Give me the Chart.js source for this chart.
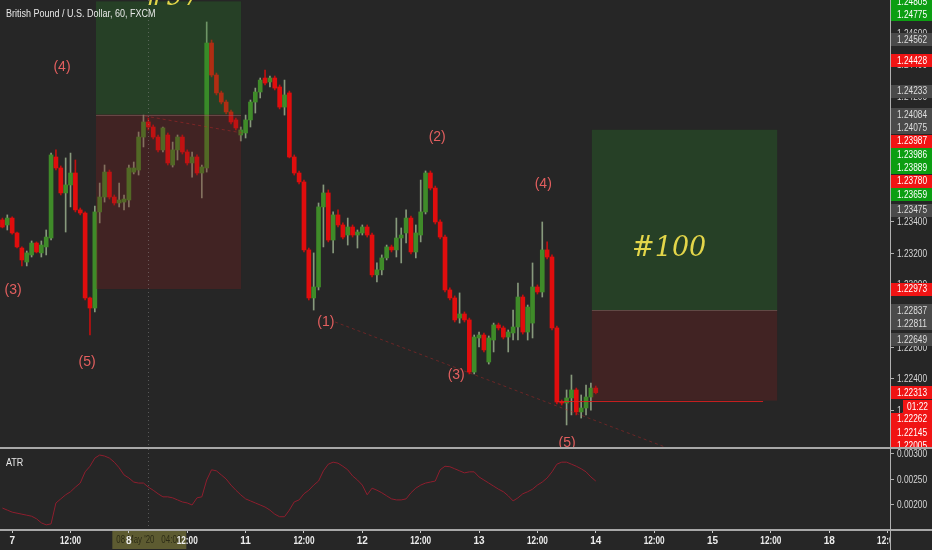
<!DOCTYPE html>
<html>
<head>
<meta charset="utf-8">
<script src="https://cdn.jsdelivr.net/npm/chart.js@4.4.1/dist/chart.umd.min.js"></script>
<style>
  html, body { margin: 0; padding: 0; background: #262626; }
  #wrap { position: relative; width: 932px; height: 550px; overflow: hidden; background: #262626;
          font-family: "Liberation Sans", Arial, sans-serif; }
  #price { position: absolute; left: 0; top: 0; }
  #atr { position: absolute; left: 0; top: 449px; }
  .hline { position: absolute; left: 0; width: 932px; height: 2px; background: #a8a8a8; }
  .vline { position: absolute; left: 890px; top: 0; width: 1px; height: 550px; background: #b0b0b0; }
  .label { position: absolute; color: #e8e8e8; font-size: 10px; line-height: 10px; white-space: nowrap;
           transform: scaleX(0.9); transform-origin: left top; }
  #corner { position: absolute; left: 891px; top: 531px; width: 41px; height: 19px; background: #262626; }
</style>
</head>
<body>
<div id="wrap">
  <canvas id="price" width="932" height="447"></canvas>
  <canvas id="atr" width="932" height="101"></canvas>
  <div class="hline" style="top:447px"></div>
  <div class="hline" style="top:529px"></div>
  <div id="corner"></div>
  <div class="vline"></div>
  <div class="label" style="left:6px;top:9px">British Pound / U.S. Dollar, 60, FXCM</div>
  <div class="label" style="left:6px;top:458px">ATR</div>
</div>
<script>
'use strict';

// time axis: one bar per hour, a label every 12 bars
const tickLabels = ['7', '12:00', '8', '12:00', '11', '12:00', '12', '12:00',
                    '13', '12:00', '14', '12:00', '15', '12:00', '18', '12:00'];
const firstTickBar = 2;
const barsPerTick = 12;
const barCount = 183;

// GBPUSD 60 min candles
const opens = [
  1.23413, 1.23381, 1.23425, 1.23330, 1.23234, 1.23145, 1.23190, 1.23266, 1.23203, 1.23241,
  1.23298, 1.23814, 1.23744, 1.23585, 1.23636, 1.23712, 1.23477, 1.23457, 1.22916, 1.22852,
  1.23464, 1.23559, 1.23718, 1.23559, 1.23521, 1.23527, 1.23540, 1.23718, 1.23731, 1.23941,
  1.24037, 1.24005, 1.23941, 1.23859, 1.23954, 1.23763, 1.23859, 1.23941, 1.23846, 1.23776,
  1.23814, 1.23712, 1.23744, 1.24540, 1.24336, 1.24222, 1.24164, 1.24101, 1.24050, 1.23954,
  1.23967, 1.24050, 1.24164, 1.24228, 1.24317, 1.24292, 1.24317, 1.24260, 1.24132, 1.24222,
  1.23814, 1.23712, 1.23655, 1.23222, 1.22916, 1.22986, 1.23496, 1.23585, 1.23285, 1.23445,
  1.23381, 1.23317, 1.23368, 1.23317, 1.23330, 1.23368, 1.23317, 1.23063, 1.23095, 1.23171,
  1.23241, 1.23222, 1.23298, 1.23330, 1.23425, 1.23209, 1.23317, 1.23464, 1.23712, 1.23616,
  1.23400, 1.23304, 1.22967, 1.22916, 1.22788, 1.22814, 1.22776, 1.22444, 1.22661, 1.22680,
  1.22508, 1.22648, 1.22744, 1.22725, 1.22667, 1.22693, 1.22731, 1.22922, 1.22699, 1.22756,
  1.22986, 1.22954, 1.23222, 1.23177, 1.22725, 1.22253, 1.22247, 1.22279, 1.22330, 1.22190,
  1.22215, 1.22285, 1.22342
];
const highs = [
  1.23425, 1.23445, 1.23432, 1.23336, 1.23241, 1.23215, 1.23279, 1.23273, 1.23279, 1.23349,
  1.23839, 1.23859, 1.23757, 1.23808, 1.23839, 1.23795, 1.23489, 1.23464, 1.22922, 1.23502,
  1.23648, 1.23763, 1.23731, 1.23572, 1.23648, 1.23572, 1.23763, 1.23782, 1.23973, 1.24081,
  1.24062, 1.24018, 1.23954, 1.24005, 1.23967, 1.23909, 1.23954, 1.23954, 1.23859, 1.23846,
  1.23827, 1.23763, 1.24674, 1.24559, 1.24349, 1.24234, 1.24177, 1.24113, 1.24062, 1.24005,
  1.24081, 1.24177, 1.24253, 1.24317, 1.24368, 1.24330, 1.24330, 1.24273, 1.24304, 1.24234,
  1.23827, 1.23725, 1.23667, 1.23234, 1.23203, 1.23521, 1.23636, 1.23604, 1.23464, 1.23477,
  1.23394, 1.23425, 1.23381, 1.23349, 1.23381, 1.23381, 1.23330, 1.23139, 1.23190, 1.23253,
  1.23253, 1.23425, 1.23362, 1.23477, 1.23438, 1.23381, 1.23667, 1.23725, 1.23725, 1.23629,
  1.23413, 1.23317, 1.22980, 1.22929, 1.22948, 1.22827, 1.22788, 1.22680, 1.22699, 1.22693,
  1.22674, 1.22756, 1.22756, 1.22737, 1.22712, 1.22839, 1.23011, 1.22935, 1.22871, 1.23139,
  1.22999, 1.23400, 1.23273, 1.23190, 1.22737, 1.22266, 1.22330, 1.22425, 1.22342, 1.22298,
  1.22361, 1.22374, 1.22355
];
const lows = [
  1.23362, 1.23349, 1.23323, 1.23234, 1.23120, 1.23120, 1.23177, 1.23203, 1.23177, 1.23190,
  1.23285, 1.23731, 1.23572, 1.23336, 1.23496, 1.23464, 1.23445, 1.22903, 1.22680, 1.22827,
  1.23394, 1.23527, 1.23546, 1.23508, 1.23496, 1.23477, 1.23496, 1.23706, 1.23699, 1.23878,
  1.23986, 1.23929, 1.23846, 1.23846, 1.23763, 1.23750, 1.23795, 1.23833, 1.23763, 1.23686,
  1.23699, 1.23553, 1.23718, 1.24324, 1.24209, 1.24152, 1.24088, 1.24024, 1.23986, 1.23916,
  1.23935, 1.24005, 1.24094, 1.24190, 1.24273, 1.24260, 1.24241, 1.24120, 1.24081, 1.23808,
  1.23699, 1.23642, 1.23209, 1.22903, 1.22839, 1.22967, 1.23241, 1.23273, 1.23203, 1.23368,
  1.23292, 1.23253, 1.23304, 1.23234, 1.23317, 1.23304, 1.23050, 1.23018, 1.23063, 1.23158,
  1.23209, 1.23177, 1.23139, 1.23266, 1.23196, 1.23171, 1.23273, 1.23451, 1.23604, 1.23387,
  1.23292, 1.22954, 1.22903, 1.22763, 1.22756, 1.22763, 1.22432, 1.22432, 1.22604, 1.22572,
  1.22495, 1.22572, 1.22712, 1.22655, 1.22572, 1.22648, 1.22648, 1.22686, 1.22648, 1.22661,
  1.22941, 1.22922, 1.23164, 1.22712, 1.22241, 1.22234, 1.22107, 1.22171, 1.22171, 1.22151,
  1.22171, 1.22202, 1.22305
];
const closes = [
  1.23368, 1.23425, 1.23330, 1.23241, 1.23158, 1.23203, 1.23266, 1.23209, 1.23253, 1.23304,
  1.23827, 1.23744, 1.23585, 1.23636, 1.23712, 1.23477, 1.23457, 1.22916, 1.22852, 1.23464,
  1.23559, 1.23718, 1.23559, 1.23521, 1.23540, 1.23546, 1.23744, 1.23744, 1.23941, 1.24037,
  1.24005, 1.23941, 1.23859, 1.23999, 1.23776, 1.23859, 1.23941, 1.23846, 1.23776, 1.23814,
  1.23712, 1.23750, 1.24540, 1.24336, 1.24222, 1.24164, 1.24101, 1.24037, 1.23999, 1.23986,
  1.24050, 1.24164, 1.24228, 1.24304, 1.24285, 1.24317, 1.24253, 1.24132, 1.24209, 1.23814,
  1.23712, 1.23655, 1.23222, 1.22916, 1.22986, 1.23496, 1.23585, 1.23285, 1.23445, 1.23381,
  1.23304, 1.23368, 1.23317, 1.23336, 1.23368, 1.23317, 1.23063, 1.23095, 1.23171, 1.23241,
  1.23222, 1.23298, 1.23317, 1.23425, 1.23209, 1.23330, 1.23464, 1.23712, 1.23616, 1.23400,
  1.23304, 1.22967, 1.22916, 1.22776, 1.22814, 1.22776, 1.22444, 1.22667, 1.22680, 1.22585,
  1.22661, 1.22744, 1.22725, 1.22667, 1.22699, 1.22731, 1.22922, 1.22699, 1.22858, 1.22986,
  1.22954, 1.23222, 1.23177, 1.22725, 1.22253, 1.22247, 1.22279, 1.22330, 1.22190, 1.22215,
  1.22285, 1.22342, 1.22313
];

// ATR indicator, one value per bar
const atr = [
  0.00194, 0.00190, 0.00186, 0.00184, 0.00182, 0.00180, 0.00178, 0.00173, 0.00165, 0.00161,
  0.00163, 0.00204, 0.00212, 0.00220, 0.00226, 0.00235, 0.00243, 0.00265, 0.00276, 0.00292,
  0.00298, 0.00296, 0.00292, 0.00284, 0.00273, 0.00259, 0.00253, 0.00245, 0.00243, 0.00243,
  0.00235, 0.00229, 0.00222, 0.00216, 0.00216, 0.00214, 0.00210, 0.00206, 0.00204, 0.00200,
  0.00214, 0.00216, 0.00249, 0.00269, 0.00267, 0.00259, 0.00251, 0.00239, 0.00229, 0.00220,
  0.00212, 0.00208, 0.00204, 0.00200, 0.00196, 0.00190, 0.00182, 0.00177, 0.00177, 0.00190,
  0.00206, 0.00210, 0.00222, 0.00229, 0.00239, 0.00247, 0.00267, 0.00280, 0.00284, 0.00282,
  0.00276, 0.00269, 0.00257, 0.00249, 0.00239, 0.00220, 0.00233, 0.00229, 0.00224, 0.00218,
  0.00212, 0.00210, 0.00210, 0.00212, 0.00224, 0.00233, 0.00239, 0.00243, 0.00245, 0.00247,
  0.00269, 0.00276, 0.00275, 0.00271, 0.00267, 0.00263, 0.00265, 0.00265, 0.00255, 0.00249,
  0.00243, 0.00237, 0.00231, 0.00226, 0.00218, 0.00208, 0.00214, 0.00222, 0.00226, 0.00231,
  0.00239, 0.00245, 0.00253, 0.00265, 0.00280, 0.00284, 0.00284, 0.00280, 0.00276, 0.00271,
  0.00265, 0.00255, 0.00247
];

// visible ranges of the two panes
const priceMin = 1.219666, priceMax = 1.24814;
const atrMin = 0.0015294, atrMax = 0.003098;

// price scale badges (r = red, g = green, n = grey)
const badgePrices = [1.24805, 1.24775, 1.24562, 1.24428, 1.24233, 1.24084, 1.24075, 1.23987, 1.23986,
                     1.23889, 1.23780, 1.23659, 1.23475, 1.22973, 1.22837, 1.22811, 1.22649, 1.22313,
                     1.22262, 1.22145, 1.22005];
const badgeKinds = ['g', 'g', 'n', 'r', 'n', 'n', 'n', 'r', 'g', 'g', 'r', 'g', 'n', 'r', 'n', 'n', 'n',
                    'r', 'r', 'r', 'r'];
const lastPrice = 1.22313;
const countdown = '01:22';

// Elliott wave labels
const waveText = ['(3)', '(4)', '(5)', '(1)', '(2)', '(3)', '(4)', '(5)'];
const waveBar = [2.2, 12.25, 17.4, 66.5, 89.4, 93.3, 111.2, 116.1];
const wavePrice = [1.22967, 1.24387, 1.22508, 1.22763, 1.23941, 1.22425, 1.23642, 1.21992];

// long position boxes
const boxName = ['#97', '#100'];
const boxFrom = [19.24, 121.2];
const boxTo = [49.06, 159.3];
const boxTarget = [1.24805, 1.23987];
const boxEntry = [1.24084, 1.22837];
const boxStop = [1.22973, 1.22262];
const boxTextBar = [34.9, 137.1];
const boxTextPrice = [1.24827, 1.23228];

// drawn trend lines
const lineFromBar = [68.4, 29.3];
const lineFromPrice = [1.22763, 1.24075];
const lineToBar = [136.2, 49.3];
const lineToPrice = [1.21967, 1.23967];

const crossBar = 30;
const crossText = ["08 May '20", '04:00'];

const FONT = '"Liberation Sans", Arial, sans-serif';

const labels = Array.from({ length: barCount }, (_, i) =>
  (i - firstTickBar) % barsPerTick === 0 ? tickLabels[(i - firstTickBar) / barsPerTick] : '');

const up = closes.map((c, i) => c >= opens[i]);

function crosshair(chart) {
  const { ctx, chartArea: a, scales: { x } } = chart;
  const px = Math.round(x.getPixelForValue(crossBar)) + 0.5;
  ctx.save();
  ctx.strokeStyle = 'rgba(150,150,150,0.45)';
  ctx.setLineDash([1, 3]);
  ctx.beginPath();
  ctx.moveTo(px, a.top);
  ctx.lineTo(px, a.bottom);
  ctx.stroke();
  ctx.restore();
}

// right hand scale labels, squeezed to the narrow TradingView look
function drawYLabels(chart) {
  const { ctx, scales: { y } } = chart;
  ctx.save();
  ctx.font = '10px ' + FONT;
  ctx.fillStyle = '#d6d6d6';
  ctx.textAlign = 'left';
  ctx.textBaseline = 'middle';
  y.ticks.forEach(t => ctx.fillText(t.value.toFixed(5), y.left + 7, y.getPixelForValue(t.value) + 0.5, 30));
  ctx.restore();
}

const overlayPlugin = {
  id: 'overlay',
  afterDatasetsDraw(chart) {
    const { ctx, chartArea: a, scales: { x, y } } = chart;
    ctx.save();
    ctx.beginPath();
    ctx.rect(a.left, a.top, a.right - a.left, a.bottom - a.top);
    ctx.clip();

    boxName.forEach((name, i) => {
      const x0 = x.getPixelForValue(boxFrom[i]);
      const x1 = x.getPixelForValue(boxTo[i]);
      const yT = y.getPixelForValue(boxTarget[i]);
      const yE = y.getPixelForValue(boxEntry[i]);
      const yS = y.getPixelForValue(boxStop[i]);
      ctx.fillStyle = 'rgba(40,140,40,0.26)';
      ctx.fillRect(x0, yT, x1 - x0, yE - yT);
      ctx.fillStyle = 'rgba(125,30,30,0.32)';
      ctx.fillRect(x0, yE, x1 - x0, yS - yE);
      ctx.fillStyle = 'rgba(150,110,110,0.45)';
      ctx.fillRect(x0, Math.round(yE), x1 - x0, 1);
      ctx.fillStyle = '#e3d64a';
      ctx.font = 'italic 27px "DejaVu Serif", "Liberation Serif", serif';
      ctx.textAlign = 'center';
      ctx.textBaseline = 'middle';
      ctx.fillText(name, x.getPixelForValue(boxTextBar[i]), y.getPixelForValue(boxTextPrice[i]));
    });

    // stop line of the open position
    ctx.fillStyle = 'rgba(225,30,30,0.85)';
    ctx.fillRect(x.getPixelForValue(114), Math.round(y.getPixelForValue(boxStop[1])),
                 x.getPixelForValue(156.4) - x.getPixelForValue(114), 1);

    ctx.strokeStyle = 'rgba(190,40,40,0.45)';
    ctx.lineWidth = 1;
    ctx.setLineDash([3, 3]);
    lineFromBar.forEach((b, i) => {
      ctx.beginPath();
      ctx.moveTo(x.getPixelForValue(b), y.getPixelForValue(lineFromPrice[i]));
      ctx.lineTo(x.getPixelForValue(lineToBar[i]), y.getPixelForValue(lineToPrice[i]));
      ctx.stroke();
    });
    ctx.setLineDash([]);

    ctx.fillStyle = '#e35f5f';
    ctx.font = '14px "Liberation Sans", Arial, sans-serif';
    ctx.textAlign = 'center';
    ctx.textBaseline = 'middle';
    waveText.forEach((t, i) => ctx.fillText(t, x.getPixelForValue(waveBar[i]), y.getPixelForValue(wavePrice[i])));
    ctx.restore();
    crosshair(chart);
  },
  afterDraw(chart) {
    drawYLabels(chart);
    const { ctx, scales: { y } } = chart;
    const left = y.left + 1;
    const w = chart.width - left;
    const step = 13.3;
    let prevBottom = -Infinity;
    ctx.save();
    ctx.font = '10px ' + FONT;
    ctx.textAlign = 'left';
    ctx.textBaseline = 'middle';
    badgePrices.forEach((p, i) => {
      let cy = y.getPixelForValue(p);
      if (cy - step / 2 < prevBottom) cy = prevBottom + step / 2;
      const k = badgeKinds[i];
      ctx.fillStyle = k === 'r' ? '#f01414' : k === 'g' ? '#0c9e12' : '#4a4a4a';
      ctx.fillRect(left, Math.round(cy - 6.5), w, 13);
      ctx.fillStyle = k === 'n' ? '#dedede' : '#ffffff';
      ctx.fillText(p.toFixed(5), left + 6, cy + 0.5, 30);
      prevBottom = cy + step / 2;
      if (p === lastPrice) {
        ctx.fillStyle = '#f01414';
        ctx.fillRect(left + 12, Math.round(cy + 7), w - 12, 14);
        ctx.fillStyle = '#ffffff';
        ctx.fillText(countdown, left + 16, cy + 14.5, 21);
        prevBottom += step;
      }
    });
    ctx.restore();
  }
};

new Chart(document.getElementById('price'), {
  type: 'bar',
  data: {
    labels,
    datasets: [
      {
        label: 'body',
        data: opens.map((o, i) => [o, closes[i]]),
        backgroundColor: up.map(u => (u ? '#3f8b29' : '#e00d0d')),
        barThickness: 4,
        grouped: false,
        order: 0
      },
      {
        label: 'wick',
        data: lows.map((l, i) => [l, highs[i]]),
        backgroundColor: up.map(u => (u ? '#87997c' : '#c01010')),
        barThickness: 1,
        grouped: false,
        order: 1
      }
    ]
  },
  options: {
    responsive: false,
    animation: false,
    devicePixelRatio: 1,
    layout: { padding: 0 },
    plugins: { legend: { display: false }, tooltip: { enabled: false } },
    scales: {
      x: { display: false, offset: true },
      y: {
        position: 'right',
        min: priceMin,
        max: priceMax,
        afterFit: s => { s.width = 42; s.paddingTop = 0; s.paddingBottom = 0; },
        border: { display: false },
        grid: { drawOnChartArea: false, tickLength: 4, color: '#b0b0b0' },
        ticks: { display: false, stepSize: 0.002, includeBounds: false, autoSkip: false }
      }
    }
  },
  plugins: [overlayPlugin]
});

const atrPlugin = {
  id: 'atrOverlay',
  beforeDraw(chart) {
    const { ctx, chartArea: a, scales: { x } } = chart;
    const cx = x.getPixelForValue(crossBar) + 1;
    ctx.save();
    ctx.fillStyle = '#5d5b31';
    ctx.fillRect(cx - 37, a.bottom + 1, 74, 19);
    ctx.fillStyle = '#2c2b16';
    ctx.font = '10px ' + FONT;
    ctx.textBaseline = 'middle';
    ctx.fillText(crossText[0], cx - 33, a.bottom + 11, 38);
    ctx.fillText(crossText[1], cx + 12, a.bottom + 11, 20);
    ctx.restore();
  },
  afterDatasetsDraw(chart) { crosshair(chart); },
  afterDraw(chart) {
    drawYLabels(chart);
    const { ctx, chartArea: a, scales: { x } } = chart;
    ctx.save();
    ctx.font = 'bold 10px ' + FONT;
    ctx.fillStyle = '#ececec';
    ctx.textAlign = 'center';
    ctx.textBaseline = 'middle';
    x.ticks.forEach((t, i) => {
      if (t.label) ctx.fillText(t.label, x.getPixelForTick(i), a.bottom + 12, 21);
    });
    ctx.restore();
  }
};

new Chart(document.getElementById('atr'), {
  type: 'line',
  data: {
    labels,
    datasets: [{
      label: 'ATR',
      data: atr,
      borderColor: '#8e1e2e',
      borderWidth: 1,
      pointRadius: 0,
      fill: false,
      tension: 0
    }]
  },
  options: {
    responsive: false,
    animation: false,
    devicePixelRatio: 1,
    layout: { padding: 0 },
    plugins: { legend: { display: false }, tooltip: { enabled: false } },
    scales: {
      x: {
        offset: true,
        afterFit: s => { s.height = 21; s.paddingLeft = 0; s.paddingRight = 0; },
        border: { display: false },
        grid: {
          drawOnChartArea: false, tickLength: 4, offset: false,
          color: c => (c.tick && c.tick.label ? '#c8c8c8' : 'rgba(0,0,0,0)')
        },
        ticks: {
          display: false, autoSkip: false, maxRotation: 0, minRotation: 0,
          callback(v) { return this.getLabelForValue(v) || null; }
        }
      },
      y: {
        position: 'right',
        min: atrMin,
        max: atrMax,
        afterFit: s => { s.width = 42; s.paddingTop = 0; s.paddingBottom = 0; },
        border: { display: false },
        grid: { drawOnChartArea: false, tickLength: 4, color: '#b0b0b0' },
        ticks: { display: false, stepSize: 0.0005, includeBounds: false, autoSkip: false }
      }
    }
  },
  plugins: [atrPlugin]
});
</script>
</body>
</html>
